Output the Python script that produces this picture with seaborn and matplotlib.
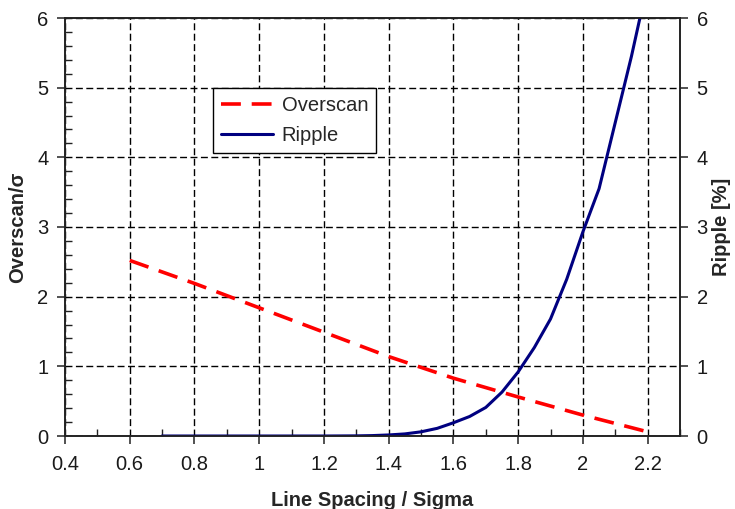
import matplotlib
matplotlib.use("Agg")
import matplotlib.pyplot as plt
import seaborn as sns
import pandas as pd
from matplotlib.ticker import MultipleLocator

overscan_x = [0.6, 0.8, 1.0, 1.2, 1.4, 1.6, 1.8, 2.0, 2.2]
overscan_y = [2.52, 2.19, 1.84, 1.49, 1.14, 0.83, 0.56, 0.30, 0.06]

ripple_x = [0.7, 0.8, 0.9, 1.0, 1.1, 1.2, 1.3, 1.35, 1.4, 1.45, 1.5, 1.55, 1.6,
            1.65, 1.7, 1.75, 1.8, 1.85, 1.9, 1.95, 2.0, 2.05, 2.1, 2.15, 2.2]
ripple_y = [0.0, 0.0, 0.0, 0.0, 0.0, 0.0, 0.002, 0.006, 0.015, 0.03, 0.06, 0.11, 0.19,
            0.28, 0.41, 0.63, 0.92, 1.27, 1.68, 2.25, 2.93, 3.55, 4.5, 5.45, 6.5]

x_ticks = [0.4, 0.6, 0.8, 1.0, 1.2, 1.4, 1.6, 1.8, 2.0, 2.2]
x_labels = ["0.4", "0.6", "0.8", "1", "1.2", "1.4", "1.6", "1.8", "2", "2.2"]
y_ticks = [0, 1, 2, 3, 4, 5, 6]

FS = 14.5

sns.set_style("ticks")
plt.rcParams['font.family'] = ['Liberation Sans', 'DejaVu Sans']

fig = plt.figure(figsize=(7.35, 5.09), dpi=100)
ax = fig.add_axes([65/735, 1-436/509, 615/735, 418/509])
ax2 = ax.twinx()

df_o = pd.DataFrame({"x": overscan_x, "y": overscan_y})
df_r = pd.DataFrame({"x": ripple_x, "y": ripple_y})

sns.lineplot(data=df_o, x="x", y="y", ax=ax, color="#ff0000", lw=2.6,
             label="Overscan", legend=False)
ax.lines[-1].set_dashes([5.5, 3])
sns.lineplot(data=df_r, x="x", y="y", ax=ax2, color="#000080", lw=2.2,
             label="Ripple", legend=False)

for a in (ax, ax2):
    a.set_xlim(0.4, 2.3)
    a.set_ylim(0, 6)
    a.set_yticks(y_ticks)
    a.set_yticklabels([str(t) for t in y_ticks], fontsize=FS, color="#1a1a1a")
    for s in a.spines.values():
        s.set_visible(True)
        s.set_color("#222222")
        s.set_linewidth(1.2)

ax.set_xticks(x_ticks)
ax.set_xticklabels(x_labels, fontsize=FS, color="#1a1a1a")
ax.xaxis.set_minor_locator(MultipleLocator(0.1))
ax.yaxis.set_minor_locator(MultipleLocator(0.2))
ax.tick_params(axis="both", which="major", direction="out", length=6, width=1.1, color="#222222", pad=6)
ax.tick_params(axis="both", which="minor", direction="in", length=5, width=1.0, color="#222222")
ax.tick_params(axis="x", pad=8)
ax2.tick_params(axis="y", which="major", direction="out", length=6, width=1.1, color="#222222", pad=6)
ax2.yaxis.set_minor_locator(MultipleLocator(10))

ax.grid(True, which="major", color="black", linestyle=(0, (5, 2.5)), lw=1.0)
ax.set_axisbelow(True)
ax2.set_zorder(ax.get_zorder() + 1)
ax2.patch.set_visible(False)

ax.set_xlabel("Line Spacing / Sigma", fontsize=FS, fontweight="bold", labelpad=12)
ax.set_ylabel("Overscan/\u03c3", fontsize=FS, fontweight="bold", labelpad=7)
ax2.set_ylabel("Ripple [%]", fontsize=FS, fontweight="bold", labelpad=3)

h1, l1 = ax.get_legend_handles_labels()
h2, l2 = ax2.get_legend_handles_labels()
leg = ax2.legend(h1 + h2, l1 + l2, loc="upper left", bbox_to_anchor=(0.2407, 0.8325),
                 borderaxespad=0, frameon=True, fancybox=False, fontsize=FS,
                 handlelength=2.6, borderpad=0.4, labelspacing=0.55, handletextpad=0.4)
leg.get_frame().set_edgecolor("black")
leg.get_frame().set_linewidth(1.0)
leg.get_frame().set_alpha(1)

fig.savefig("out.png", dpi=100)
